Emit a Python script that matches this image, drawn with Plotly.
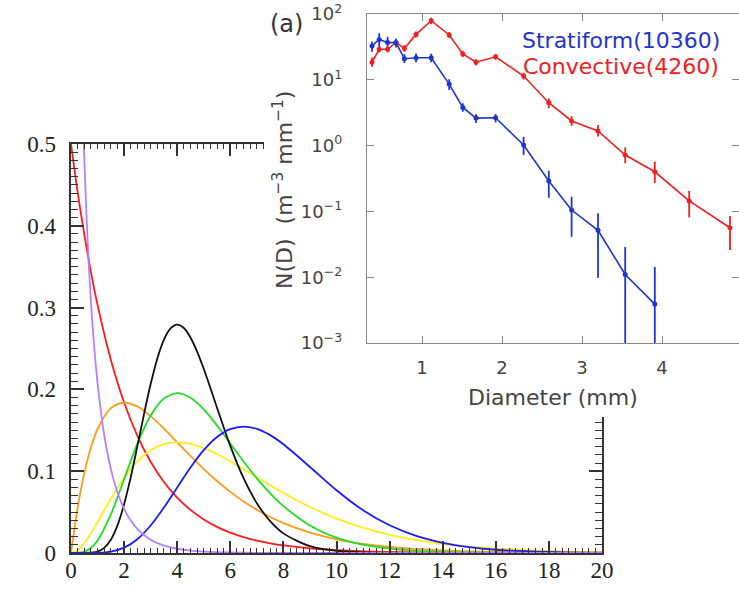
import plotly.graph_objects as go

W, H = 739, 594

# ---------------- main chart data (gamma-shaped size distributions) ----------------
X_GRID = [0, 0.25, 0.5, 0.75, 1, 1.5, 2, 2.5, 3, 3.5, 4, 4.5, 5, 5.5, 6, 6.5, 7, 7.5, 8,
          9, 10, 11, 12, 13, 14, 15, 16, 18, 20]
RED_Y = [0.5, 0.4412, 0.3894, 0.3437, 0.3033, 0.2362, 0.1839, 0.1433, 0.1116, 0.0869, 0.0677,
         0.0527, 0.0410, 0.0320, 0.0249, 0.0194, 0.0151, 0.0118, 0.0092, 0.0056, 0.0034, 0.0020,
         0.0012, 0.0008, 0.0005, 0.0003, 0.0002, 0.0001, 0.0000]
ORANGE_Y = [0, 0.0552, 0.0974, 0.1289, 0.1516, 0.1771, 0.1839, 0.1791, 0.1673, 0.1521, 0.1353,
            0.1186, 0.1026, 0.0880, 0.0747, 0.0631, 0.0529, 0.0441, 0.0366, 0.0250, 0.0168,
            0.0112, 0.0074, 0.0049, 0.0032, 0.0021, 0.0013, 0.0006, 0.0002]
YELLOW_Y = [0, 0.0034, 0.0122, 0.0242, 0.0379, 0.0664, 0.0920, 0.1119, 0.1255, 0.1331, 0.1353,
            0.1334, 0.1283, 0.1210, 0.1120, 0.1025, 0.0926, 0.0827, 0.0733, 0.0562, 0.0421,
            0.0309, 0.0223, 0.0159, 0.0112, 0.0078, 0.0054, 0.0025, 0.0011]
GREEN_Y = [0, 0.0001, 0.0016, 0.0062, 0.0153, 0.0471, 0.0902, 0.1336, 0.1680, 0.1888, 0.1954,
           0.1898, 0.1755, 0.1558, 0.1339, 0.1118, 0.0912, 0.0729, 0.0573, 0.0337, 0.0189,
           0.0102, 0.0053, 0.0027, 0.0013, 0.0007, 0.0003, 0.0001, 0.0000]
BLUE_Y = [0, 0.0000, 0.0000, 0.0000, 0.0002, 0.0017, 0.0065, 0.0169, 0.0336, 0.0555, 0.0802,
          0.1046, 0.1258, 0.1418, 0.1515, 0.1546, 0.1517, 0.1441, 0.1329, 0.1052, 0.0768,
          0.0524, 0.0340, 0.0210, 0.0125, 0.0072, 0.0040, 0.0012, 0.0003]

BLACK_X = [0, 0.5, 1, 1.25, 1.5, 1.75, 2, 2.25, 2.5, 2.75, 3, 3.25, 3.5, 3.75, 4, 4.25, 4.5,
           4.75, 5, 5.25, 5.5, 6, 6.5, 7, 7.5, 8, 9, 10, 11, 12, 14, 20]
BLACK_Y = [0, 0.0000, 0.0017, 0.0062, 0.0162, 0.0337, 0.0595, 0.0927, 0.1306, 0.1697, 0.2065,
           0.2376, 0.2608, 0.2746, 0.2792, 0.2750, 0.2635, 0.2463, 0.2252, 0.2018, 0.1776,
           0.1310, 0.0914, 0.0609, 0.0389, 0.0240, 0.0083, 0.0026, 0.0008, 0.0002, 0.0000, 0.0000]

PURPLE_X = [0.25, 0.35, 0.45, 0.5, 0.6, 0.7, 0.8, 0.9, 1.0, 1.2, 1.4, 1.6, 1.8, 2.0, 2.2, 2.5,
            3, 3.5, 4, 4.5, 5, 6, 7, 8, 10, 20]
PURPLE_Y = [0.8788, 0.6720, 0.5362, 0.4840, 0.3997, 0.3349, 0.2834, 0.2418, 0.2076, 0.1551,
            0.1176, 0.0900, 0.0695, 0.0540, 0.0421, 0.0293, 0.0162, 0.0091, 0.0052, 0.0030,
            0.0017, 0.0006, 0.0002, 0.0001, 0.0000, 0.0000]

# ---------------- inset data (drop size distribution) ----------------
D_MM = [0.375, 0.465, 0.57, 0.675, 0.78, 0.925, 1.115, 1.34, 1.51, 1.675, 1.92, 2.27, 2.585,
        2.87, 3.2, 3.54, 3.91, 4.34, 4.85]
STRAT_N = [32.7, 41, 37, 36.6, 20.9, 21.6, 21.6, 8.6, 3.8, 2.62, 2.65, 1.02, 0.29, 0.105,
           0.0516, 0.011, 0.0039]
STRAT_HI = [38, 51, 45, 42, 24.5, 25, 25, 10.2, 4.4, 3.0, 3.0, 1.36, 0.416, 0.167, 0.0935,
            0.0288, 0.0143]
STRAT_LO = [26.8, 31.8, 31.8, 31, 18, 18.5, 18.5, 7.0, 3.27, 2.2, 2.25, 0.72, 0.161, 0.0412,
            0.0098, 0.0001, 0.0001]
CONV_N = [18.5, 29.1, 29.1, 37, 30, 49, 79, 48, 24.7, 18.5, 22.4, 11.4, 4.49, 2.37, 1.67, 0.72,
          0.40, 0.144, 0.0565]
CONV_HI = [21.9, 32, 32, 41.4, 33.6, 54, 88, 53, 27.5, 20.5, 24.8, 12.8, 5.2, 2.8, 2.06, 0.94,
           0.57, 0.206, 0.085]
CONV_LO = [15.8, 26, 26, 33, 26.7, 44, 70, 43, 22.2, 16.5, 20.2, 10.1, 3.7, 2.0, 1.37, 0.54,
           0.27, 0.081, 0.026]
INSET_YTICKS = [1e-3, 1e-2, 1e-1, 1e0, 1e1, 1e2]
INSET_YTEXT = ["10<sup>−3</sup>", "10<sup>−2</sup>", "10<sup>−1</sup>", "10<sup>0</sup>",
               "10<sup>1</sup>", "10<sup>2</sup>"]
INSET_XTICKS = [1, 2, 3, 4, 5]

fig = go.Figure()

main_curves = [
    (X_GRID, RED_Y, "#ff1a1a"),
    (X_GRID, ORANGE_Y, "#ff9a1a"),
    (X_GRID, YELLOW_Y, "#ffee1a"),
    (X_GRID, GREEN_Y, "#22dd22"),
    (BLACK_X, BLACK_Y, "#111111"),
    (X_GRID, BLUE_Y, "#1a1aff"),
    (PURPLE_X, PURPLE_Y, "#b580ff"),
]
for xs, ys, col in main_curves:
    fig.add_trace(go.Scatter(x=xs, y=ys, mode="lines", xaxis="x", yaxis="y",
                             line=dict(color=col, width=1.8, shape="spline", smoothing=0.8),
                             hoverinfo="skip", showlegend=False))

# invisible carrier trace for the serif tick-label axes overlaying the main axes
fig.add_trace(go.Scatter(x=[X_GRID[0]], y=[RED_Y[-1]], mode="markers", xaxis="x4", yaxis="y4",
                         marker=dict(size=1, opacity=0), hoverinfo="skip", showlegend=False))

# white panel behind the inset (covers the main chart)
fig.add_trace(go.Scatter(x=[0, 1, 1, 0, 0], y=[0, 0, 1, 1, 0], mode="lines", fill="toself",
                         fillcolor="white", line=dict(width=0, color="white"),
                         xaxis="x2", yaxis="y2", hoverinfo="skip", showlegend=False))

def errs(vals, hi, lo):
    return [h - v for v, h in zip(vals, hi)], [v - l for v, l in zip(vals, lo)]

sp, sm = errs(STRAT_N, STRAT_HI, STRAT_LO)
cp, cm = errs(CONV_N, CONV_HI, CONV_LO)
fig.add_trace(go.Scatter(x=D_MM, y=CONV_N, mode="lines+markers", xaxis="x3", yaxis="y3",
                         line=dict(color="#ee2020", width=1.6), marker=dict(size=5, color="#ee2020"),
                         error_y=dict(type="data", symmetric=False, array=cp, arrayminus=cm,
                                      color="#ee2020", thickness=1.8, width=0),
                         hoverinfo="skip", showlegend=False))
fig.add_trace(go.Scatter(x=D_MM[:len(STRAT_N)], y=STRAT_N, mode="lines+markers", xaxis="x3",
                         yaxis="y3", line=dict(color="#1f35d0", width=1.6),
                         marker=dict(size=5, color="#1f35d0"),
                         error_y=dict(type="data", symmetric=False, array=sp, arrayminus=sm,
                                      color="#1f35d0", thickness=1.8, width=0),
                         hoverinfo="skip", showlegend=False))

serif = dict(family="Liberation Serif", size=23, color="#222222")
sans = dict(family="DejaVu Sans", size=18, color="#444444")
AX = "#333333"
INS = "#888888"

def px_x(p):
    return p / W

def px_y(p):
    return (H - p) / H

XDOM = [px_x(71), px_x(602)]
YDOM = [px_y(553), px_y(144)]

fig.update_layout(
    width=W, height=H, margin=dict(l=0, r=0, t=0, b=0, autoexpand=False),
    paper_bgcolor="white", plot_bgcolor="white", showlegend=False,
    # main axes: lines and tick marks
    xaxis=dict(domain=XDOM, range=[0, 20], anchor="y", automargin=False,
               showline=True, linecolor=AX, linewidth=2, mirror="ticks",
               ticks="inside", ticklen=12, tickwidth=1.5, tickcolor=AX, dtick=2,
               minor=dict(dtick=0.25, ticks="inside", ticklen=5, tickwidth=1, tickcolor=AX),
               showgrid=False, zeroline=False, showticklabels=False),
    yaxis=dict(domain=YDOM, range=[0, 0.5], anchor="x", automargin=False,
               showline=True, linecolor=AX, linewidth=2, mirror="ticks",
               ticks="inside", ticklen=13, tickwidth=1.5, tickcolor=AX, dtick=0.1,
               minor=dict(dtick=0.01, ticks="inside", ticklen=7, tickwidth=1, tickcolor=AX),
               showgrid=False, zeroline=False, showticklabels=False),
    # main axes: tick labels (serif), overlaying the tick-mark axes
    xaxis4=dict(overlaying="x", anchor="y", side="bottom", range=[0, 20], dtick=2,
                automargin=False, ticks="", showline=False, showgrid=False, zeroline=False,
                tickfont=serif, ticklabelstandoff=1),
    yaxis4=dict(overlaying="y", anchor="x", side="left", range=[0, 0.5], dtick=0.1,
                automargin=False, ticks="", showline=False, showgrid=False, zeroline=False,
                tickfont=serif, ticklabelstandoff=14),
    xaxis2=dict(domain=[px_x(264), 1], range=[0, 1], anchor="y2", visible=False),
    yaxis2=dict(domain=[px_y(417), 1], range=[0, 1], anchor="x2", visible=False),
    xaxis3=dict(domain=[px_x(367), 1], range=[0.3125, 4.9625], anchor="y3", automargin=False,
                showline=True, linecolor=INS, linewidth=1.4, mirror="ticks",
                ticks="inside", ticklen=7, tickwidth=1.2, tickcolor=INS,
                tickvals=INSET_XTICKS, showgrid=False, zeroline=False, tickfont=sans,
                ticklabelstandoff=8),
    yaxis3=dict(domain=[px_y(343), px_y(14)], type="log", range=[-3, 2], anchor="x3",
                automargin=False, showline=True, linecolor=INS, linewidth=1.4, mirror="ticks",
                ticks="inside", ticklen=7, tickwidth=1.2, tickcolor=INS,
                tickvals=INSET_YTICKS, ticktext=INSET_YTEXT, showgrid=False, zeroline=False,
                tickfont=sans, ticklabelstandoff=20),
)

ann_font = dict(family="DejaVu Sans", size=22, color="#444444")
annotations = [
    dict(text="(a)", x=px_x(286), y=px_y(24), font=dict(family="DejaVu Sans", size=24,
                                                        color="#333333")),
    dict(text="Stratiform(10360)", x=px_x(621), y=px_y(41),
         font=dict(family="DejaVu Sans", size=22, color="#1f35d0")),
    dict(text="Convective(4260)", x=px_x(621), y=px_y(66),
         font=dict(family="DejaVu Sans", size=22, color="#ee2020")),
    dict(text="Diameter (mm)", x=px_x(553), y=px_y(397), font=ann_font),
    dict(text="N(D)  (m<sup>−3</sup> mm<sup>−1</sup>)", x=px_x(283), y=px_y(190),
         textangle=-90, font=ann_font),
]
for a in annotations:
    fig.add_annotation(xref="paper", yref="paper", showarrow=False, xanchor="center",
                       yanchor="middle", **a)

fig.write_html("out.html")
